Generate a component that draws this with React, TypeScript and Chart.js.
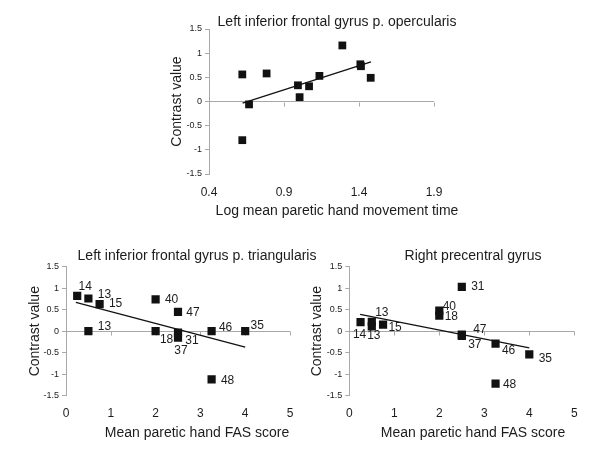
import { useEffect, useRef } from "react";
import { Chart, registerables } from "chart.js";

Chart.register(...registerables);

// ---------------- data ----------------
const contrastTicks = [-1.5, -1, -0.5, 0, 0.5, 1, 1.5];

// top: Left inferior frontal gyrus p. opercularis
const topXTicks = [0.4, 0.9, 1.4, 1.9];
const topX = [0.622, 0.622, 0.667, 0.784, 0.993, 1.004, 1.067, 1.136, 1.289, 1.409, 1.413, 1.478];
const topY = [0.56, -0.8, -0.06, 0.58, 0.335, 0.09, 0.315, 0.53, 1.16, 0.77, 0.73, 0.49];
const topTrendX = [0.624, 1.48];
const topTrendY = [-0.035, 0.82];

// bottom-left: Left inferior frontal gyrus p. triangularis
const fasTicks = [0, 1, 2, 3, 4, 5];
const triIds = ["14", "13", "15", "13", "40", "47", "18", "31", "37", "46", "35", "48"];
const triX = [0.25, 0.5, 0.75, 0.5, 2, 2.5, 2, 2.5, 2.5, 3.25, 4, 3.25];
const triY = [0.82, 0.76, 0.63, 0, 0.74, 0.45, 0, -0.03, -0.15, 0, 0, -1.12];
const triTrendX = [0.22, 4.0];
const triTrendY = [0.67, -0.37];

// bottom-right: Right precentral gyrus
const preIds = ["14", "13", "13", "15", "40", "18", "31", "47", "37", "46", "35", "48"];
const preX = [0.25, 0.5, 0.5, 0.75, 2, 2, 2.5, 2.5, 2.5, 3.25, 4, 3.25];
const preY = [0.21, 0.22, 0.11, 0.155, 0.48, 0.36, 1.03, -0.08, -0.11, -0.29, -0.54, -1.22];
const preTrendX = [0.24, 4.0];
const preTrendY = [0.39, -0.39];

// label placement (styling, px offsets of each id text from its point)
const triLabelOffsets = [
  [8, -9], [16, -4], [16, 0], [16, -5], [16, 0], [15, 1],
  [11, 8], [14, 8], [3, 13], [14, -4], [12, -6], [16, 1],
];
const preLabelOffsets = [
  [-1, 13], [10, -9], [2, 9], [12, 3], [10, -4], [12, 1],
  [16, 0], [18, -5], [13, 9], [13, 7], [16, 4], [14, 1],
];

// ---------------- styles ----------------
const FONT = "'Liberation Sans', Arial, sans-serif";
const INK = "#111111";
const TEXT = "#1c1c1c";
const AXIS = "#a8a8a8";

const zeroAxisTicks = {
  id: "zeroAxisTicks",
  beforeDatasetsDraw(chart: any) {
    const { ctx, scales } = chart;
    const x = scales.x;
    const y = scales.y;
    const y0 = Math.round(y.getPixelForValue(0)) + 0.5;
    ctx.save();
    ctx.strokeStyle = AXIS;
    ctx.lineWidth = 1;
    x.ticks.forEach((t: any) => {
      const px = Math.round(x.getPixelForValue(t.value)) + 0.5;
      ctx.beginPath();
      ctx.moveTo(px, y0);
      ctx.lineTo(px, y0 + 4);
      ctx.stroke();
    });
    ctx.restore();
  },
};

const pointIdLabels = {
  id: "pointIdLabels",
  afterDatasetsDraw(chart: any) {
    const ds: any = chart.data.datasets[0];
    if (!ds.ids) return;
    const meta = chart.getDatasetMeta(0);
    const { ctx } = chart;
    ctx.save();
    ctx.font = `12px ${FONT}`;
    ctx.fillStyle = TEXT;
    ctx.textAlign = "center";
    ctx.textBaseline = "middle";
    meta.data.forEach((el: any, i: number) => {
      const off = ds.offsets[i];
      ctx.fillText(ds.ids[i], el.x + off[0], el.y + off[1]);
    });
    ctx.restore();
  },
};

type PanelSpec = {
  xs: number[];
  ys: number[];
  trendX: number[];
  trendY: number[];
  xTicks: number[];
  title: string;
  xTitle: string;
  yAxisWidth: number;
  padRight: number;
  yTitlePad: number;
  xLabelPad: number;
  xScaleHeight: number;
  titlePad: { top: number; bottom: number };
  radius: number;
  ids?: string[];
  offsets?: number[][];
};

function buildConfig(s: PanelSpec): any {
  return {
    type: "scatter",
    data: {
      datasets: [
        {
          data: s.xs.map((x, i) => ({ x, y: s.ys[i] })),
          pointStyle: "rect",
          pointRadius: s.radius,
          pointHoverRadius: s.radius,
          backgroundColor: INK,
          borderColor: INK,
          borderWidth: 0,
          ids: s.ids,
          offsets: s.offsets,
        },
        {
          data: s.trendX.map((x, i) => ({ x, y: s.trendY[i] })),
          showLine: true,
          pointRadius: 0,
          borderColor: INK,
          borderWidth: 1.3,
          fill: false,
        },
      ],
    },
    options: {
      responsive: false,
      animation: false,
      events: [],
      layout: { padding: 0 },
      plugins: {
        legend: { display: false },
        tooltip: { enabled: false },
        title: {
          display: true,
          text: s.title,
          color: TEXT,
          font: { family: FONT, size: 14, weight: "normal", lineHeight: 1 },
          padding: s.titlePad,
        },
        subtitle: {
          display: true,
          position: "bottom",
          text: s.xTitle,
          color: TEXT,
          font: { family: FONT, size: 14, weight: "normal", lineHeight: 1.2 },
          padding: { top: 0, bottom: 0 },
        },
      },
      scales: {
        x: {
          type: "linear",
          position: "bottom",
          min: s.xTicks[0],
          max: s.xTicks[s.xTicks.length - 1],
          afterBuildTicks: (sc: any) => {
            sc.ticks = s.xTicks.map((v) => ({ value: v }));
          },
          afterFit: (sc: any) => {
            sc.height = s.xScaleHeight;
          },
          grid: { display: false, drawTicks: false },
          border: { display: false },
          ticks: {
            padding: s.xLabelPad,
            color: TEXT,
            font: { family: FONT, size: 12 },
            maxRotation: 0,
            autoSkip: false,
            callback: (v: any) => String(v),
          },
        },
        y: {
          type: "linear",
          position: "left",
          min: contrastTicks[0],
          max: contrastTicks[contrastTicks.length - 1],
          afterBuildTicks: (sc: any) => {
            sc.ticks = contrastTicks.map((v) => ({ value: v }));
          },
          afterFit: (sc: any) => {
            sc.width = s.yAxisWidth;
          },
          grid: {
            color: (c: any) => (c.tick && c.tick.value === 0 ? AXIS : "rgba(0,0,0,0)"),
            tickColor: AXIS,
            tickLength: 4,
            drawTicks: true,
            lineWidth: 1,
          },
          border: { display: true, color: AXIS, width: 1 },
          ticks: {
            padding: 3,
            color: TEXT,
            font: { family: FONT, size: 9 },
            autoSkip: false,
            callback: (v: any) => String(v),
          },
          title: {
            display: true,
            text: "Contrast value",
            color: TEXT,
            font: { family: FONT, size: 14, weight: "normal", lineHeight: 1.2 },
            padding: { top: s.yTitlePad, bottom: 0 },
          },
        },
        // empty right-hand spacer so the chart titles stay centred on the whole panel
        spacer: {
          type: "linear",
          position: "right",
          display: true,
          min: 0,
          max: 1,
          afterFit: (sc: any) => {
            sc.width = s.padRight;
          },
          grid: { display: false, drawTicks: false },
          border: { display: false },
          ticks: { display: false },
        },
      },
    },
    plugins: [zeroAxisTicks, pointIdLabels],
  };
}

function Panel(props: { left: number; top: number; width: number; height: number; spec: PanelSpec }) {
  const ref = useRef<HTMLCanvasElement>(null);
  useEffect(() => {
    const chart = new Chart(ref.current as HTMLCanvasElement, buildConfig(props.spec));
    return () => chart.destroy();
  }, []);
  return (
    <canvas
      ref={ref}
      width={props.width}
      height={props.height}
      style={{ position: "absolute", left: props.left, top: props.top, width: props.width, height: props.height }}
    />
  );
}

export default function App() {
  const topSpec: PanelSpec = {
    xs: topX,
    ys: topY,
    trendX: topTrendX,
    trendY: topTrendY,
    xTicks: topXTicks,
    title: "Left inferior frontal gyrus p. opercularis",
    xTitle: "Log mean paretic hand movement time",
    yAxisWidth: 59,
    padRight: 90,
    yTitlePad: 18.6,
    xLabelPad: 11.8,
    xScaleHeight: 29.2,
    titlePad: { top: 15, bottom: 0 },
    radius: 5.5,
  };
  const triSpec: PanelSpec = {
    xs: triX,
    ys: triY,
    trendX: triTrendX,
    trendY: triTrendY,
    xTicks: fasTicks,
    title: "Left inferior frontal gyrus p. triangularis",
    xTitle: "Mean paretic hand FAS score",
    yAxisWidth: 66,
    padRight: 104,
    yTitlePad: 26.6,
    xLabelPad: 10.4,
    xScaleHeight: 29.5,
    titlePad: { top: 13, bottom: 3.7 },
    radius: 5.8,
    ids: triIds,
    offsets: triLabelOffsets,
  };
  const preSpec: PanelSpec = {
    xs: preX,
    ys: preY,
    trendX: preTrendX,
    trendY: preTrendY,
    xTicks: fasTicks,
    title: "Right precentral gyrus",
    xTitle: "Mean paretic hand FAS score",
    yAxisWidth: 49.3,
    padRight: 71.7,
    yTitlePad: 8.3,
    xLabelPad: 10.4,
    xScaleHeight: 29.5,
    titlePad: { top: 13, bottom: 3.7 },
    radius: 5.8,
    ids: preIds,
    offsets: preLabelOffsets,
  };
  return (
    <div
      style={{
        position: "absolute",
        left: 0,
        top: 0,
        width: 600,
        height: 452,
        overflow: "hidden",
        background: "#ffffff",
      }}
    >
      <Panel left={150} top={0} width={374} height={220} spec={topSpec} />
      <Panel left={0} top={236} width={394} height={206} spec={triSpec} />
      <Panel left={300} top={236} width={346} height={206} spec={preSpec} />
    </div>
  );
}
